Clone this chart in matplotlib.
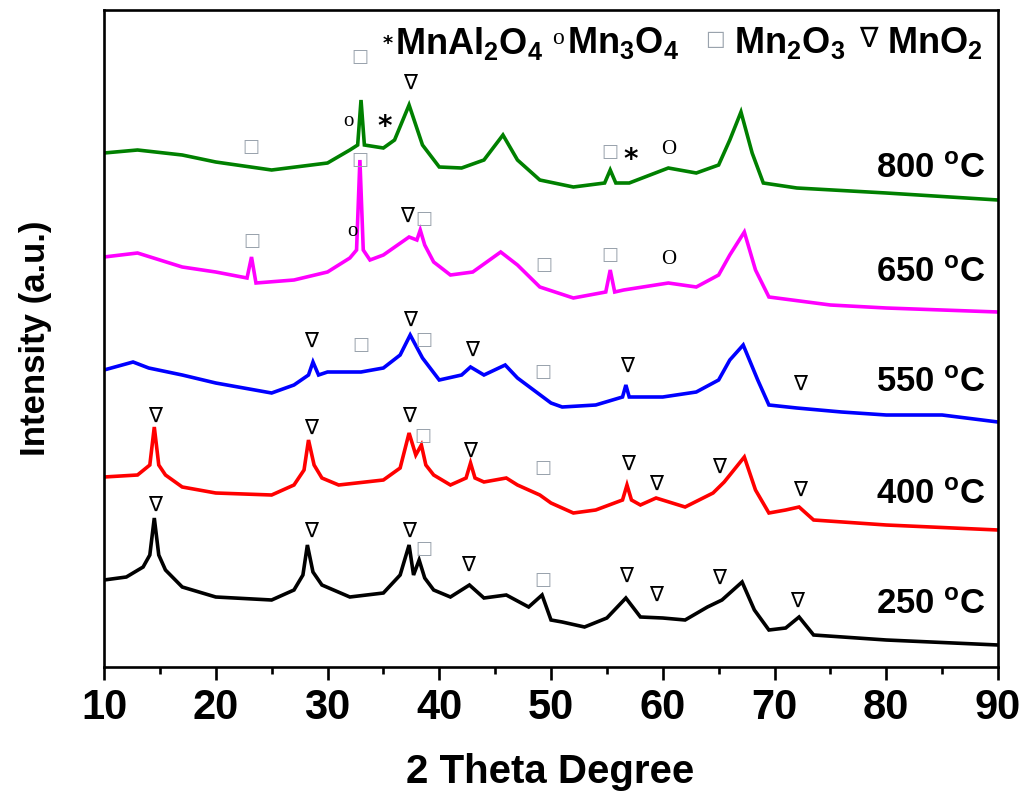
import matplotlib
matplotlib.use("Agg")
import matplotlib.pyplot as plt
from matplotlib import font_manager

# pick a condensed bold face for the tick labels if it is there
names = {f.name for f in font_manager.fontManager.ttflist}
NARROW = "Liberation Sans Narrow" if "Liberation Sans Narrow" in names else "Liberation Sans"

plt.rcParams['font.family'] = ['Liberation Sans', 'DejaVu Sans']
plt.rcParams['mathtext.fontset'] = 'custom'
plt.rcParams['mathtext.rm'] = 'Liberation Sans:bold'
plt.rcParams['mathtext.it'] = 'Liberation Sans:bold'
plt.rcParams['mathtext.bf'] = 'Liberation Sans:bold'

# ---- data (2 theta in degrees, stacked intensity in a.u.) ----
theta_800 = [10, 13, 17, 20, 25, 30, 32, 32.7, 33.0, 33.3, 35, 36, 37.3, 38.5, 40, 42, 44,
             45.7, 47, 49, 52, 54.8, 55.3, 55.8, 57, 60.5, 63, 65, 66, 67.0, 68, 69, 72, 80, 90]
int_800 = [514, 517, 512, 505, 497, 504, 517, 522, 567, 522, 519, 527, 562, 522, 500, 499, 507,
           532, 507, 487, 480, 484, 497, 484, 484, 499, 494, 502, 527, 555, 514, 484, 479, 474, 467]

theta_650 = [10, 13, 17, 20, 22.8, 23.2, 23.6, 27, 30, 32, 32.6, 32.9, 33.2, 33.8, 35, 37.3, 38.0,
             38.3, 38.7, 39.5, 41, 43, 45.5, 47, 49, 52, 54.9, 55.3, 55.7, 56.5, 60.5, 63, 65, 66,
             67.3, 68.3, 69.5, 75, 80, 90]
int_650 = [410, 414, 400, 395, 389, 410, 384, 387, 395, 409, 417, 507, 417, 407, 412, 430, 427,
           437, 422, 405, 392, 395, 415, 402, 380, 369, 375, 397, 375, 377, 384, 380, 392, 412,
           435, 397, 370, 362, 359, 355]

theta_550 = [10, 12.6, 14, 17, 20, 25, 27, 28.3, 28.7, 29.2, 30, 33, 35, 36.5, 37.4, 38.5, 40, 42,
             42.8, 44, 45.9, 47, 50, 51, 54, 56.4, 56.7, 57.0, 60, 63, 65, 66, 67.2, 68.5, 69.5,
             72, 76, 80, 85, 90]
int_550 = [297, 305, 299, 292, 284, 274, 282, 292, 305, 292, 295, 295, 299, 312, 332, 309, 287, 292,
           300, 292, 302, 289, 264, 260, 262, 270, 282, 270, 270, 275, 287, 307, 322, 287, 262,
           259, 255, 252, 252, 245]

theta_400 = [10, 13, 14.1, 14.5, 14.9, 15.5, 17, 20, 25, 27, 27.9, 28.3, 28.8, 29.5, 31, 35, 36.5,
             37.3, 37.9, 38.4, 38.8, 39.5, 41, 42.4, 42.8, 43.2, 44, 46, 47, 49, 50, 52, 54, 56.4,
             56.8, 57.2, 58, 59.4, 62, 64.5, 65.5, 67.3, 68.3, 69.5, 71, 72.2, 73.5, 80, 90]
int_400 = [190, 192, 202, 240, 202, 192, 180, 174, 172, 182, 197, 227, 202, 189, 182, 187, 199,
           234, 212, 222, 202, 192, 182, 189, 204, 189, 185, 189, 182, 172, 164, 154, 157, 167,
           182, 167, 162, 169, 160, 174, 185, 210, 177, 154, 157, 160, 147, 142, 137]

theta_250 = [10, 12, 13.5, 14.1, 14.5, 14.9, 15.5, 17, 20, 25, 27, 27.8, 28.2, 28.7, 29.5, 32, 35,
             36.5, 37.3, 37.7, 38.2, 38.7, 39.5, 41, 42.7, 44, 46, 48, 49.2, 50, 51, 53, 55, 56.7,
             58, 60, 62, 64, 65.3, 67.1, 68.2, 69.5, 71, 72.2, 73.5, 80, 90]
int_250 = [87, 90, 100, 112, 149, 112, 97, 80, 70, 67, 77, 92, 122, 95, 82, 70, 74,
           92, 122, 92, 107, 89, 77, 70, 82, 69, 72, 60, 72, 47, 45, 40, 49, 69,
           50, 49, 47, 60, 67, 85, 57, 37, 39, 50, 32, 27, 22]

temps = ["800", "650", "550", "400", "250"]
colors = ["#008000", "#ff00ff", "#0000ff", "#ff0000", "#000000"]
label_y = [498, 394, 284, 173, 62]

# phase markers: (symbol, 2theta, height)
marks_800 = [("□", 23.1, 520), ("□", 32.9, 610), ("o", 31.9, 545), ("*", 35.1, 540),
             ("∇", 37.4, 584), ("□", 55.3, 515), ("*", 57.1, 507), ("O", 60.5, 517)]
marks_650 = [("□", 23.2, 426), ("□", 32.9, 507), ("o", 32.2, 435), ("∇", 37.1, 451),
             ("□", 38.6, 448), ("□", 49.4, 402), ("□", 55.3, 412), ("O", 60.5, 407)]
marks_550 = [("∇", 28.5, 326), ("□", 33.0, 322), ("∇", 37.4, 347), ("□", 38.6, 327),
             ("∇", 42.9, 317), ("□", 49.3, 295), ("∇", 56.8, 301), ("∇", 72.3, 283)]
marks_400 = [("∇", 14.6, 251), ("∇", 28.5, 239), ("∇", 37.3, 251), ("□", 38.5, 231),
             ("∇", 42.8, 216), ("□", 49.3, 199), ("∇", 56.9, 203), ("∇", 59.4, 183),
             ("∇", 65.0, 200), ("∇", 72.3, 177)]
marks_250 = [("∇", 14.6, 162), ("∇", 28.5, 136), ("∇", 37.3, 136), ("□", 38.6, 118),
             ("∇", 42.6, 102), ("□", 49.3, 87), ("∇", 56.7, 91), ("∇", 59.4, 72),
             ("∇", 65.0, 89), ("∇", 72.0, 66)]

series = [(theta_800, int_800, marks_800), (theta_650, int_650, marks_650),
          (theta_550, int_550, marks_550), (theta_400, int_400, marks_400),
          (theta_250, int_250, marks_250)]


def draw_mark(ax, sym, x, y):
    if sym == "□":
        ax.text(x, y, sym, color="#9aa3ad", fontsize=13, ha="center", va="center",
                family="DejaVu Sans")
    elif sym == "∇":
        ax.text(x, y, sym, color="black", fontsize=15, ha="center", va="center",
                family="DejaVu Sans")
    elif sym == "*":
        ax.text(x, y, sym, color="black", fontsize=20, ha="center", va="center",
                family="DejaVu Sans", fontweight="bold")
    else:
        ax.text(x, y, sym, color="black", fontsize=15, ha="center", va="center",
                family="Liberation Serif")


fig = plt.figure(figsize=(10.24, 8.01), dpi=100)
ax = fig.add_axes([104 / 1024, 134 / 801, 894 / 1024, 657 / 801])

for (tx, iy, marks), col, t, ly in zip(series, colors, temps, label_y):
    ax.plot(tx, iy, color=col, lw=2.6, solid_joinstyle="miter")
    for sym, mx, my in marks:
        draw_mark(ax, sym, mx, my)
    ax.text(88.9, ly, t + r" $^{o}$C", fontsize=25, fontweight="bold", ha="right", va="center")

# legend line at the top
ax.text(35.4, 623, "*", fontsize=14, fontweight="bold", ha="center", va="center", family="DejaVu Sans")
ax.text(36.0, 624, r"MnAl$_2$O$_4$", fontsize=26, fontweight="bold", ha="left", va="center")
ax.text(50.6, 628, "o", fontsize=17, ha="center", va="center", family="Liberation Serif")
ax.text(51.4, 624, r"Mn$_3$O$_4$", fontsize=26, fontweight="bold", ha="left", va="center")
ax.text(64.7, 628, "□", fontsize=15, color="#9aa3ad", ha="center", va="center", family="DejaVu Sans")
ax.text(66.4, 624, r"Mn$_2$O$_3$", fontsize=26, fontweight="bold", ha="left", va="center")
ax.text(78.4, 628, "∇", fontsize=20, ha="center", va="center", family="DejaVu Sans")
ax.text(80.1, 624, r"MnO$_2$", fontsize=26, fontweight="bold", ha="left", va="center")

ax.set_xlim(10, 90)
ax.set_ylim(0, 657)
ax.set_xticks(range(10, 91, 10))
ax.set_xticks(range(15, 90, 10), minor=True)
ax.set_yticks([])
for s in ax.spines.values():
    s.set_linewidth(1.9)
ax.tick_params(axis="x", which="major", direction="out", length=9, width=1.9, pad=6)
ax.tick_params(axis="x", which="minor", direction="out", length=5, width=1.9)
for lab in ax.get_xticklabels():
    lab.set_family(NARROW)
    lab.set_fontweight("bold")
    lab.set_fontsize(30)

fig.text(550 / 1024, 1 - 772 / 801, "2 Theta Degree", fontsize=29, fontweight="bold",
         ha="center", va="center")
fig.text(36 / 1024, 1 - 338 / 801, "Intensity (a.u.)", fontsize=25, fontweight="bold",
         ha="center", va="center", rotation=90)

fig.savefig("out.png", dpi=100)
